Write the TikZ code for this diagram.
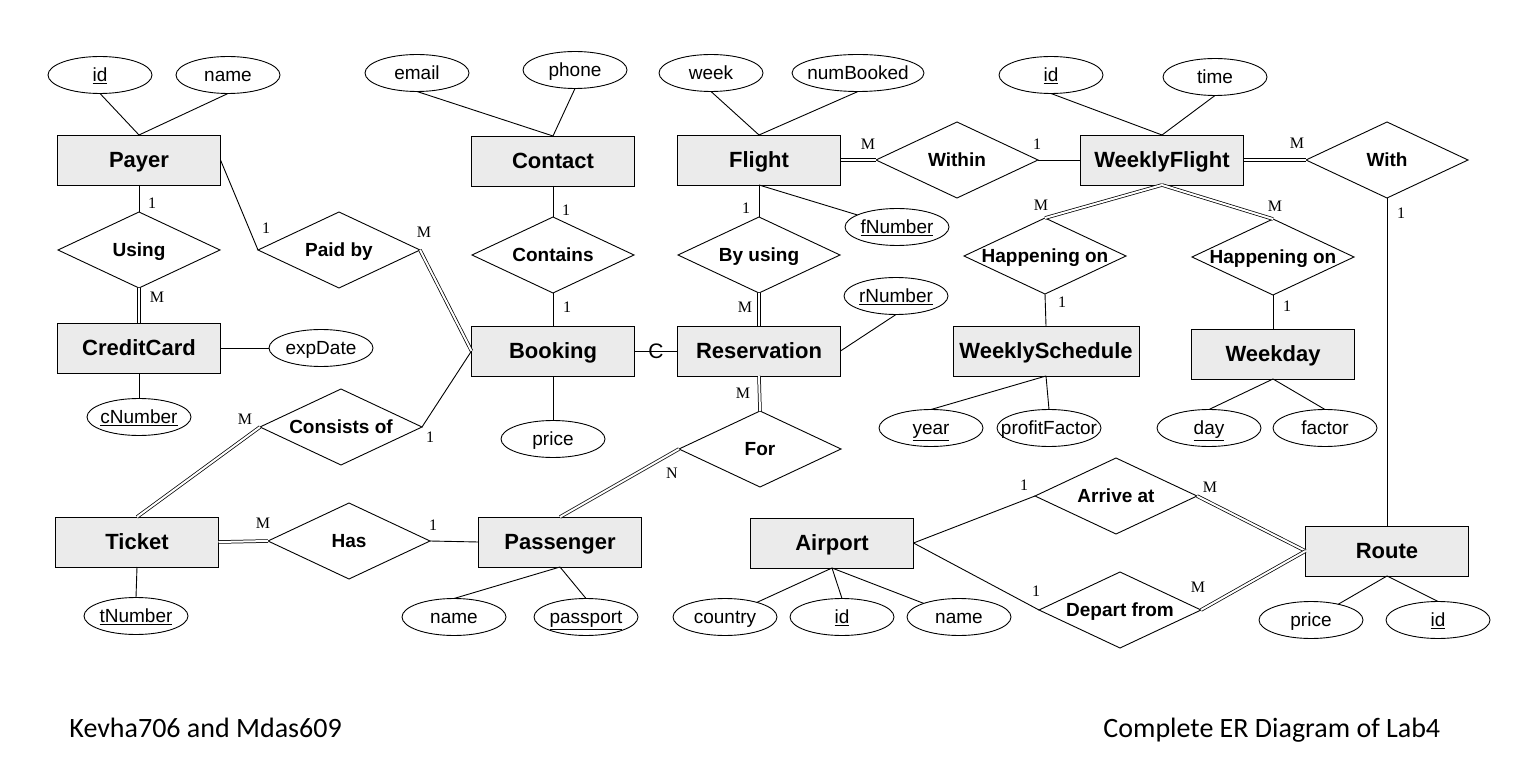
\documentclass[tikz,border=0pt]{standalone}
\usepackage{fontspec}
\setmainfont{Liberation Sans}
\newfontfamily\serifcard{Liberation Serif}
\newfontfamily\calib{Carlito}
\usetikzlibrary{shapes.geometric}
\definecolor{entfill}{HTML}{EBEBEB}
\begin{document}
\begin{tikzpicture}[x=1pt,y=-1pt,line width=0.9pt,
  ent/.style={draw, fill=entfill, minimum width=163pt, minimum height=50pt, inner sep=0pt, outer sep=0pt, text height=15.75pt, text depth=0pt, font=\bfseries\fontsize{22}{24}\selectfont},
  rel/.style={diamond, draw, fill=white, minimum width=162pt, minimum height=76pt, inner sep=0pt, outer sep=0pt, text height=13.6pt, text depth=0pt, font=\bfseries\fontsize{19}{22}\selectfont},
  att/.style={ellipse, draw, minimum width=104pt, minimum height=37pt, inner sep=0pt, outer sep=0pt, text height=13.6pt, text depth=0pt, font=\fontsize{19}{22}\selectfont},
  card/.style={inner sep=0pt, font=\serifcard\fontsize{16}{18}\selectfont},
  ctext/.style={inner sep=0pt, text height=15pt, text depth=0pt, font=\fontsize{21}{24}\selectfont},
  foot/.style={inner sep=0pt, font=\calib\fontsize{28}{32}\selectfont},
  dbl/.style={double, line width=0.75pt, double distance=2pt}
]
\useasboundingbox (0,0) rectangle (1520,783);
\fill[white] (0,0) rectangle (1520,783);

% entities
\node[ent] (payer) at (139,160) {Payer};
\node[ent] (creditcard) at (139,348) {CreditCard};
\node[ent] (ticket) at (137,542) {Ticket};
\node[ent] (contact) at (553,161) {Contact};
\node[ent] (booking) at (553,351) {Booking};
\node[ent] (passenger) at (560,542) {Passenger};
\node[ent] (flight) at (759,160) {Flight};
\node[ent] (reservation) at (759,351) {Reservation};
\node[ent] (weeklyflight) at (1162,160) {WeeklyFlight};
\node[ent, minimum width=186pt] (weeklyschedule) at (1046,351) {WeeklySchedule};
\node[ent] (weekday) at (1273,354) {Weekday};
\node[ent] (airport) at (832,543) {Airport};
\node[ent] (route) at (1387,551) {Route};

% relationships
\node[rel] (using) at (139,250) {\makebox[0pt]{Using}};
\node[rel] (paidby) at (339,250) {\makebox[0pt]{Paid by}};
\node[rel] (contains) at (553,255) {\makebox[0pt]{Contains}};
\node[rel] (byusing) at (759,255) {\makebox[0pt]{By using}};
\node[rel] (within) at (957,160) {\makebox[0pt]{Within}};
\node[rel] (withrel) at (1387,160) {\makebox[0pt]{With}};
\node[rel] (hap1) at (1045,256) {\makebox[0pt]{Happening on}};
\node[rel] (hap2) at (1273,257) {\makebox[0pt]{Happening on}};
\node[rel] (consists) at (341,427) {\makebox[0pt]{Consists of}};
\node[rel] (forrel) at (760,449) {\makebox[0pt]{For}};
\node[rel] (has) at (349,541) {\makebox[0pt]{Has}};
\node[rel] (arrive) at (1116,496) {\makebox[0pt]{Arrive at}};
\node[rel] (depart) at (1120,610) {\makebox[0pt]{Depart from}};

% attributes
\node[att] (payerid) at (100,75) {\makebox[0pt]{\underline{id}}};
\node[att] (payername) at (228,75) {\makebox[0pt]{name}};
\node[att] (email) at (417,73) {\makebox[0pt]{email}};
\node[att] (phone) at (575,70) {\makebox[0pt]{phone}};
\node[att] (week) at (711,73) {\makebox[0pt]{week}};
\node[att, minimum width=132pt] (numbooked) at (858,73) {\makebox[0pt]{numBooked}};
\node[att] (fnumber) at (897,227) {\makebox[0pt]{\underline{fNumber}}};
\node[att] (rnumber) at (896,296) {\makebox[0pt]{\underline{rNumber}}};
\node[att] (wfid) at (1051,75) {\makebox[0pt]{\underline{id}}};
\node[att] (time) at (1215,77) {\makebox[0pt]{time}};
\node[att] (expdate) at (321,348) {\makebox[0pt]{expDate}};
\node[att] (cnumber) at (139,417) {\makebox[0pt]{\underline{cNumber}}};
\node[att] (price) at (553,439) {\makebox[0pt]{price}};
\node[att] (year) at (931,428) {\makebox[0pt]{\underline{year}}};
\node[att] (profitfactor) at (1049,428) {\makebox[0pt]{profitFactor}};
\node[att] (day) at (1209,428) {\makebox[0pt]{\underline{day}}};
\node[att] (factor) at (1325,428) {\makebox[0pt]{factor}};
\node[att] (tnumber) at (136,616) {\makebox[0pt]{\underline{tNumber}}};
\node[att] (pname) at (454,617) {\makebox[0pt]{name}};
\node[att] (passport) at (586,617) {\makebox[0pt]{\underline{passport}}};
\node[att] (country) at (725,617) {\makebox[0pt]{country}};
\node[att] (aid) at (842,617) {\makebox[0pt]{\underline{id}}};
\node[att] (aname) at (959,617) {\makebox[0pt]{name}};
\node[att] (rprice) at (1311,620) {\makebox[0pt]{price}};
\node[att] (rid) at (1438,620) {\makebox[0pt]{\underline{id}}};

% connectors
\draw (payer.north) -- (payerid.south);
\draw (payer.north) -- (payername.south);
\draw (payer.south) -- (using.north);
\draw[dbl] (using.south) -- (creditcard.north);
\draw (payer.east) -- (paidby.west);
\draw[dbl] (paidby.east) -- (booking.west);
\draw (creditcard.east) -- (expdate.west);
\draw (creditcard.south) -- (cnumber.north);
\draw (consists.east) -- (booking.west);
\draw[dbl] (consists.west) -- (ticket.north);
\draw (ticket.south) -- (tnumber.north);
\draw[dbl] (ticket.east) -- (has.west);
\draw (has.east) -- (passenger.west);
\draw (passenger.south) -- (pname.north);
\draw (passenger.south) -- (passport.north);
\draw (contact.north) -- (email.south);
\draw (contact.north) -- (phone.south);
\draw (contact.south) -- (contains.north);
\draw (contains.south) -- (booking.north);
\draw (booking.south) -- (price.north);
\draw (booking.east) -- node[ctext] (cmark) {C} (reservation.west);
\draw (flight.north) -- (week.south);
\draw (flight.north) -- (numbooked.south);
\draw (flight.south) -- (fnumber);
\draw (flight.south) -- (byusing.north);
\draw[dbl] (byusing.south) -- (reservation.north);
\draw (reservation.east) -- (rnumber.south);
\draw[dbl] (reservation.south) -- (forrel.north);
\draw[dbl] (forrel.west) -- (passenger.north);
\draw[dbl] (flight.east) -- (within.west);
\draw (within.east) -- (weeklyflight.west);
\draw (weeklyflight.north) -- (wfid.south);
\draw (weeklyflight.north) -- (time.south);
\draw[dbl] (weeklyflight.east) -- (withrel.west);
\draw (withrel.south) -- (route.north);
\draw[dbl] (weeklyflight.south) -- (hap1.north);
\draw[dbl] (weeklyflight.south) -- (hap2.north);
\draw (hap1.south) -- (weeklyschedule.north);
\draw (hap2.south) -- (weekday.north);
\draw (weeklyschedule.south) -- (year.north);
\draw (weeklyschedule.south) -- (profitfactor.north);
\draw (weekday.south) -- (day.north);
\draw (weekday.south) -- (factor.north);
\draw (airport.east) -- (arrive.west);
\draw (airport.east) -- (depart.west);
\draw[dbl] (arrive.east) -- (route.west);
\draw[dbl] (depart.east) -- (route.west);
\draw (airport.south) -- (country);
\draw (airport.south) -- (aid.north);
\draw (airport.south) -- (aname);
\draw (route.south) -- (rprice);
\draw (route.south) -- (rid.north);

% cardinalities
\node[card] (k1) at (152,203) {1};
\node[card] (k2) at (157,297) {M};
\node[card] (k3) at (266,228) {1};
\node[card] (k4) at (424,232) {M};
\node[card] (k5) at (430,437) {1};
\node[card] (k6) at (245,419) {M};
\node[card] (k7) at (263,523) {M};
\node[card] (k8) at (433,525) {1};
\node[card] (k9) at (566,210) {1};
\node[card] (k10) at (567,307) {1};
\node[card] (k11) at (746,208) {1};
\node[card] (k12) at (745,307) {M};
\node[card] (k13) at (743,393) {M};
\node[card] (k14) at (672,473) {N};
\node[card] (k15) at (868,144) {M};
\node[card] (k16) at (1037,144) {1};
\node[card] (k17) at (1297,143) {M};
\node[card] (k18) at (1401,213) {1};
\node[card] (k19) at (1041,205) {M};
\node[card] (k20) at (1062,302) {1};
\node[card] (k21) at (1275,206) {M};
\node[card] (k22) at (1287,306) {1};
\node[card] (k23) at (1024,485) {1};
\node[card] (k24) at (1210,487) {M};
\node[card] (k25) at (1036,591) {1};
\node[card] (k26) at (1198,587) {M};

% footer
\node[foot, anchor=base west] (f1) at (69,737) {Kevha706 and Mdas609};
\node[foot, anchor=base west] (f2) at (1103,737) {Complete ER Diagram of Lab4};
\end{tikzpicture}
\end{document}
